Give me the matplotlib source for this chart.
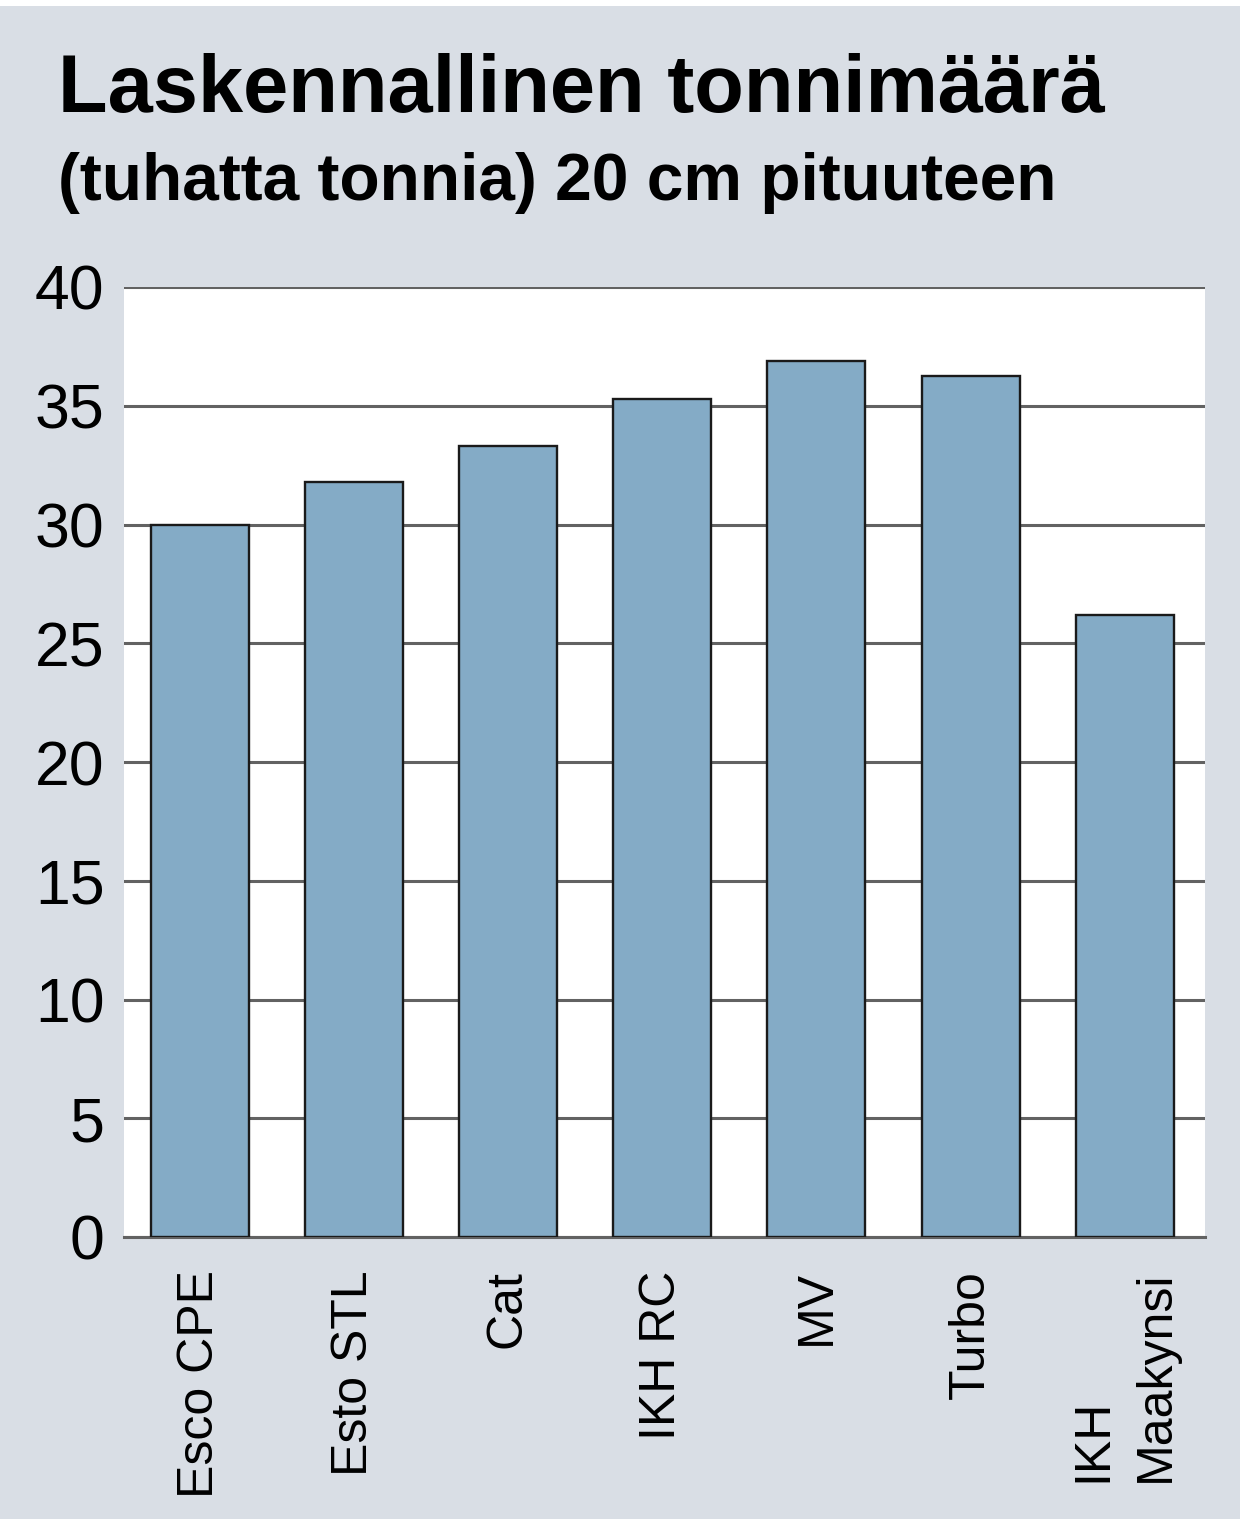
import matplotlib.pyplot as plt
import matplotlib.patches as mpatches
import numpy as np

# data
categories = ['Esco CPE', 'Esto STL', 'Cat', 'IKH RC', 'MV', 'Turbo', 'IKH\nMaakynsi']
values = [30.0, 31.8, 33.3, 35.3, 36.9, 36.25, 26.2]
yticks = [0, 5, 10, 15, 20, 25, 30, 35, 40]

title = 'Laskennallinen tonnimäärä'
subtitle = '(tuhatta tonnia) 20 cm pituuteen'

fam = ['Liberation Sans Narrow', 'Liberation Sans', 'DejaVu Sans']
bg = '#d9dee5'
barcol = '#84abc6'
gridcol = '#626262'

fig = plt.figure(figsize=(12.4, 15.23), dpi=100, facecolor='white')
# grey panel, thin white strip top and bottom
fig.patches.append(mpatches.Rectangle((0, 4/1523), 1, 1 - 10/1523,
                                      transform=fig.transFigure, facecolor=bg,
                                      edgecolor='none', zorder=-10))

ax = fig.add_axes([124/1240, 1 - 1237/1523, (1205-124)/1240, (1237-287)/1523])
ax.set_facecolor('white')

x = np.arange(len(categories))
ax.bar(x, values, width=0.635, color=barcol, edgecolor='#1a1a1a', linewidth=1.7, zorder=3)

ax.set_xlim(-0.49, 6.52)
ax.set_ylim(0, 40)
ax.set_yticks(yticks)
ax.set_yticklabels([str(v) for v in yticks], fontsize=45, family=fam)
ax.yaxis.grid(True, color=gridcol, linewidth=2.2, zorder=1)
ax.set_axisbelow(True)
ax.tick_params(axis='y', length=0, pad=14)
ax.tick_params(axis='x', length=0, pad=24)
ax.set_xticks(x)
ax.set_xticklabels(categories, rotation=90, fontsize=36, family=fam,
                   va='top', ha='center', multialignment='left', linespacing=1.45)
# the two-line label sits a bit right of its bar
ax.get_xticklabels()[-1].set_x(6.08)

for s in ['left', 'right', 'top']:
    ax.spines[s].set_visible(False)
ax.spines['bottom'].set_color(gridcol)
ax.spines['bottom'].set_linewidth(2.2)

t1 = fig.text(58/1240, 1 - 112/1523, title, fontsize=66, fontweight='bold',
              family=fam, ha='left', va='baseline')
t2 = fig.text(58/1240, 1 - 200/1523, subtitle, fontsize=48, fontweight='bold',
              family=fam, ha='left', va='baseline')

# shrink headings so they span the same width as in the original
r = fig.canvas.get_renderer()
for t, w in [(t1, 1047), (t2, 997)]:
    cur = t.get_window_extent(r).width
    t.set_fontsize(t.get_fontsize() * w / cur)

fig.savefig('out.png', dpi=100, facecolor=fig.get_facecolor())
